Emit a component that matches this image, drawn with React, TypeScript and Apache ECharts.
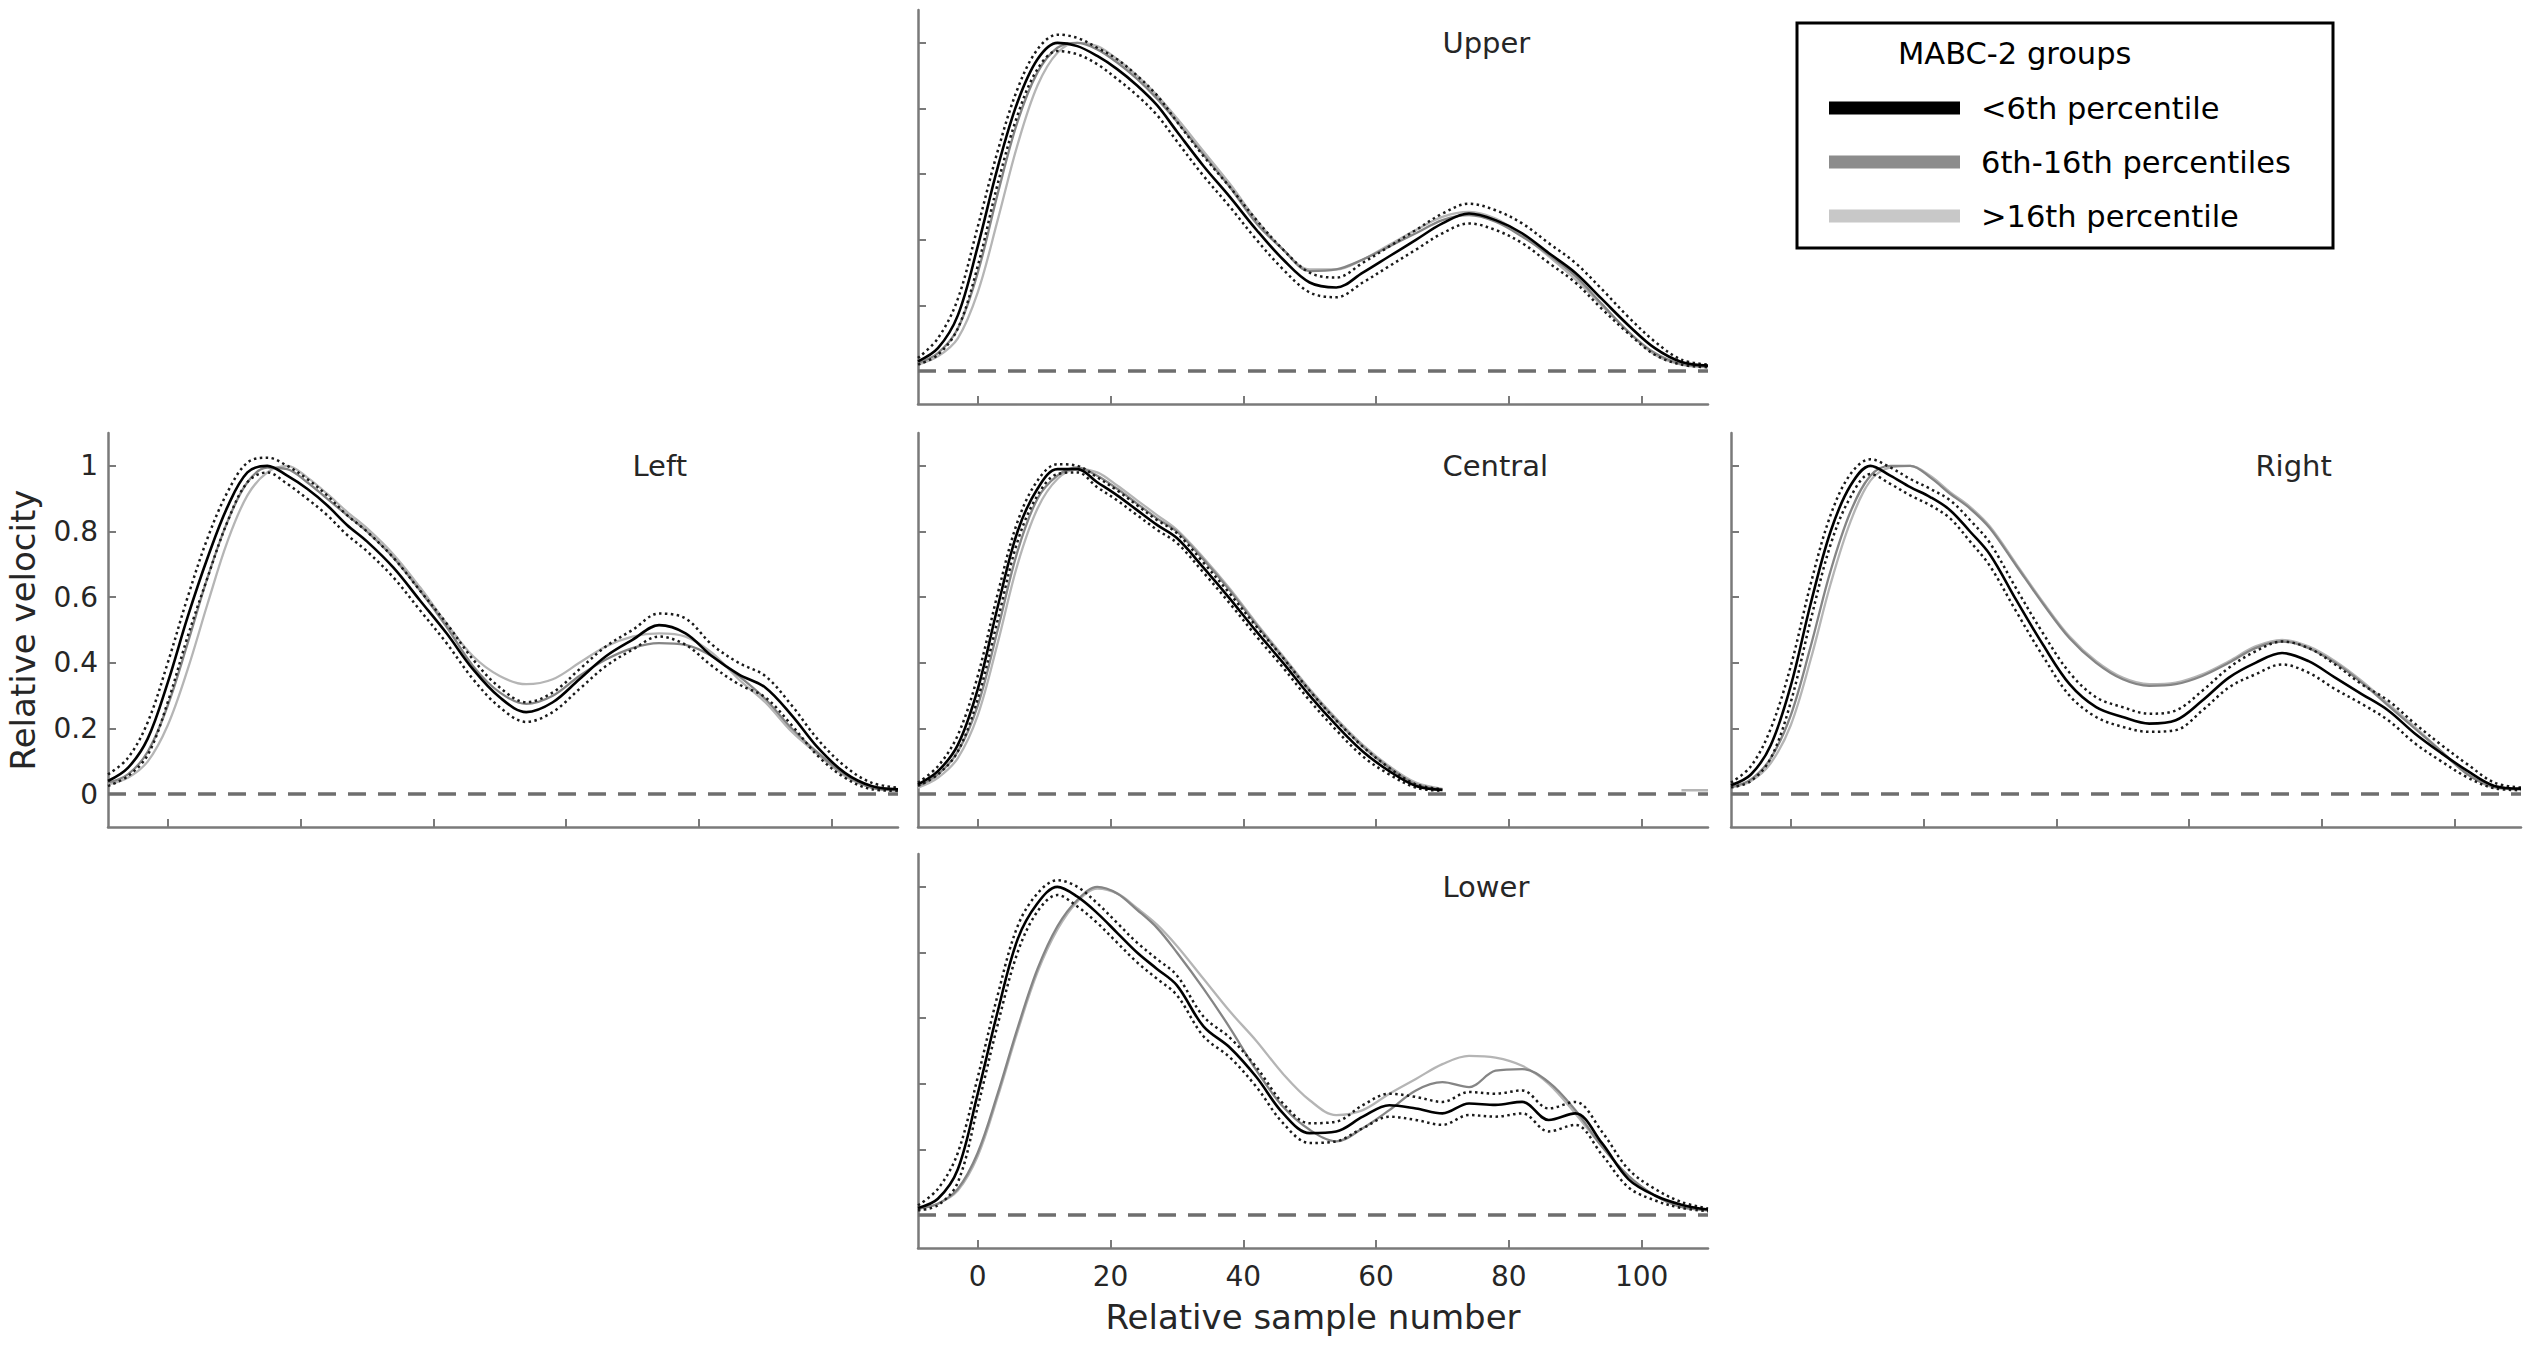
import React, { useEffect, useRef } from "react";
import * as echarts from "echarts";

const FONT = "DejaVu Sans, Verdana, sans-serif";
const TEXT = "#262626";
const AXIS_COLOR = "#7a7a7a";
const BLACK = "#000000";
const MID = "#858585";
const LIGHT = "#b5b5b5";
const DOT = "#1a1a1a";
const ZERO = "#6e6e6e";

// shared sample grid (Relative sample number)
const X = [-9, -6, -3, 0, 3, 6, 9, 12, 15, 18, 21, 24, 27, 30, 34, 38, 42, 46, 50, 54, 58, 62, 66, 70, 74, 78, 82, 86, 90, 94, 98, 102, 106, 110];
const X_TICKS = [0, 20, 40, 60, 80, 100];
const Y_TICKS = [0, 0.2, 0.4, 0.6, 0.8, 1];
const X_MIN = -9;
const X_MAX = 110;
const Y_MIN = -0.1;
const Y_MAX = 1.1;
const TITLE_AT = [70, 1];

const PANELS = ["Upper", "Left", "Central", "Right", "Lower"];
const GROUPS = ["<6th percentile", "6th-16th percentiles", ">16th percentile"];
const LEGEND_TITLE = "MABC-2 groups";
const X_NAME = "Relative sample number";
const Y_NAME = "Relative velocity";

// ---------- Upper ----------
const upperBelow6 = [0.03, 0.07, 0.17, 0.38, 0.62, 0.82, 0.95, 1.0, 0.99, 0.96, 0.92, 0.87, 0.81, 0.73, 0.625, 0.53, 0.43, 0.34, 0.27, 0.255, 0.30, 0.35, 0.40, 0.45, 0.48, 0.46, 0.42, 0.36, 0.30, 0.22, 0.14, 0.07, 0.028, 0.017];
const upperBelow6Hi = [0.04, 0.10, 0.22, 0.44, 0.67, 0.86, 0.98, 1.025, 1.015, 0.985, 0.95, 0.90, 0.84, 0.76, 0.655, 0.56, 0.46, 0.37, 0.30, 0.285, 0.33, 0.38, 0.43, 0.48, 0.51, 0.49, 0.45, 0.39, 0.33, 0.25, 0.165, 0.09, 0.035, 0.02];
const upperBelow6Lo = [0.02, 0.05, 0.13, 0.32, 0.57, 0.78, 0.92, 0.975, 0.965, 0.935, 0.89, 0.84, 0.78, 0.70, 0.595, 0.50, 0.40, 0.31, 0.24, 0.225, 0.27, 0.32, 0.37, 0.42, 0.45, 0.43, 0.39, 0.33, 0.27, 0.19, 0.115, 0.05, 0.02, 0.012];
const upperMid = [0.025, 0.055, 0.13, 0.30, 0.54, 0.76, 0.91, 0.985, 1.0, 0.98, 0.94, 0.89, 0.83, 0.76, 0.66, 0.56, 0.45, 0.37, 0.305, 0.31, 0.34, 0.38, 0.42, 0.46, 0.475, 0.455, 0.41, 0.355, 0.29, 0.205, 0.12, 0.055, 0.022, 0.015];
const upperHigh = [0.02, 0.045, 0.10, 0.24, 0.46, 0.69, 0.87, 0.97, 1.0, 0.99, 0.95, 0.90, 0.84, 0.77, 0.67, 0.57, 0.46, 0.37, 0.31, 0.31, 0.34, 0.385, 0.43, 0.47, 0.485, 0.465, 0.415, 0.35, 0.28, 0.20, 0.12, 0.05, 0.02, 0.012];

// ---------- Left ----------
const leftBelow6 = [0.04, 0.08, 0.17, 0.34, 0.54, 0.72, 0.875, 0.98, 1.0, 0.97, 0.93, 0.88, 0.82, 0.77, 0.69, 0.59, 0.49, 0.38, 0.295, 0.25, 0.28, 0.35, 0.42, 0.47, 0.515, 0.49, 0.42, 0.365, 0.325, 0.24, 0.14, 0.065, 0.025, 0.015];
const leftBelow6Hi = [0.06, 0.11, 0.22, 0.40, 0.60, 0.78, 0.92, 1.01, 1.025, 1.0, 0.96, 0.91, 0.85, 0.80, 0.72, 0.62, 0.52, 0.41, 0.325, 0.28, 0.31, 0.38, 0.45, 0.50, 0.55, 0.535, 0.455, 0.40, 0.36, 0.27, 0.165, 0.085, 0.035, 0.02];
const leftBelow6Lo = [0.025, 0.055, 0.12, 0.28, 0.48, 0.66, 0.83, 0.95, 0.98, 0.945, 0.90, 0.85, 0.79, 0.74, 0.66, 0.56, 0.46, 0.35, 0.265, 0.22, 0.25, 0.32, 0.39, 0.44, 0.48, 0.455, 0.39, 0.335, 0.295, 0.21, 0.115, 0.05, 0.015, 0.01];
const leftMid = [0.035, 0.06, 0.13, 0.27, 0.46, 0.66, 0.83, 0.95, 0.995, 0.99, 0.95, 0.90, 0.85, 0.80, 0.72, 0.62, 0.51, 0.39, 0.31, 0.275, 0.30, 0.36, 0.41, 0.445, 0.46, 0.455, 0.42, 0.36, 0.29, 0.20, 0.125, 0.06, 0.02, 0.012];
const leftHigh = [0.03, 0.05, 0.10, 0.21, 0.38, 0.58, 0.77, 0.91, 0.98, 1.0, 0.965, 0.915, 0.86, 0.81, 0.73, 0.63, 0.52, 0.42, 0.36, 0.335, 0.35, 0.40, 0.45, 0.48, 0.49, 0.48, 0.43, 0.35, 0.28, 0.19, 0.12, 0.055, 0.02, 0.012];

// ---------- Central ----------
const centralBelow6 = [0.03, 0.07, 0.15, 0.32, 0.57, 0.80, 0.93, 0.99, 0.99, 0.95, 0.91, 0.865, 0.82, 0.78, 0.69, 0.595, 0.495, 0.40, 0.30, 0.21, 0.13, 0.07, 0.025, 0.013, null, null, null, null, null, null, null, null, null, null];
const centralBelow6Hi = [0.035, 0.085, 0.18, 0.36, 0.61, 0.83, 0.955, 1.005, 1.0, 0.965, 0.925, 0.88, 0.835, 0.795, 0.705, 0.61, 0.51, 0.415, 0.315, 0.225, 0.145, 0.08, 0.03, 0.015, null, null, null, null, null, null, null, null, null, null];
const centralBelow6Lo = [0.025, 0.06, 0.13, 0.29, 0.53, 0.77, 0.91, 0.975, 0.98, 0.935, 0.895, 0.85, 0.805, 0.765, 0.675, 0.58, 0.48, 0.385, 0.285, 0.195, 0.115, 0.06, 0.02, 0.01, null, null, null, null, null, null, null, null, null, null];
const centralMid = [0.025, 0.06, 0.13, 0.27, 0.50, 0.74, 0.90, 0.97, 0.995, 0.97, 0.93, 0.885, 0.84, 0.80, 0.715, 0.62, 0.515, 0.415, 0.315, 0.225, 0.145, 0.08, 0.03, 0.014, null, null, null, null, null, null, null, null, null, null];
const centralHigh = [0.02, 0.05, 0.11, 0.24, 0.46, 0.70, 0.87, 0.96, 0.99, 0.98, 0.94, 0.895, 0.85, 0.805, 0.72, 0.625, 0.52, 0.42, 0.32, 0.23, 0.15, 0.085, 0.035, 0.016, null, null, null, null, null, null, null, null, 0.012, 0.012];

// ---------- Right ----------
const rightBelow6 = [0.027, 0.06, 0.15, 0.33, 0.58, 0.80, 0.94, 1.0, 0.97, 0.935, 0.905, 0.865, 0.80, 0.73, 0.59, 0.455, 0.335, 0.265, 0.235, 0.215, 0.225, 0.285, 0.355, 0.40, 0.43, 0.405, 0.355, 0.305, 0.255, 0.185, 0.125, 0.07, 0.025, 0.017];
const rightBelow6Hi = [0.035, 0.085, 0.20, 0.39, 0.64, 0.85, 0.975, 1.02, 0.995, 0.96, 0.93, 0.895, 0.835, 0.765, 0.625, 0.49, 0.37, 0.295, 0.265, 0.245, 0.255, 0.315, 0.385, 0.435, 0.465, 0.445, 0.395, 0.335, 0.285, 0.215, 0.15, 0.09, 0.035, 0.02];
const rightBelow6Lo = [0.02, 0.04, 0.11, 0.28, 0.53, 0.76, 0.905, 0.975, 0.945, 0.91, 0.88, 0.84, 0.77, 0.695, 0.555, 0.42, 0.30, 0.235, 0.205, 0.19, 0.195, 0.255, 0.325, 0.365, 0.395, 0.37, 0.32, 0.275, 0.225, 0.155, 0.10, 0.05, 0.018, 0.012];
const rightMid = [0.022, 0.045, 0.11, 0.24, 0.45, 0.68, 0.86, 0.97, 1.0, 1.0, 0.965, 0.915, 0.87, 0.81, 0.695, 0.58, 0.475, 0.40, 0.35, 0.33, 0.335, 0.36, 0.40, 0.445, 0.465, 0.445, 0.40, 0.34, 0.27, 0.20, 0.13, 0.06, 0.022, 0.015];
const rightHigh = [0.02, 0.04, 0.095, 0.21, 0.41, 0.64, 0.83, 0.955, 0.995, 1.0, 0.97, 0.92, 0.875, 0.815, 0.70, 0.585, 0.48, 0.405, 0.355, 0.335, 0.34, 0.365, 0.405, 0.45, 0.47, 0.45, 0.405, 0.345, 0.275, 0.205, 0.13, 0.06, 0.02, 0.015];

// ---------- Lower ----------
const lowerBelow6 = [0.022, 0.05, 0.14, 0.37, 0.62, 0.84, 0.95, 1.0, 0.97, 0.92, 0.86, 0.80, 0.75, 0.70, 0.575, 0.51, 0.42, 0.31, 0.25, 0.255, 0.30, 0.335, 0.325, 0.31, 0.34, 0.336, 0.345, 0.29, 0.31, 0.22, 0.11, 0.06, 0.032, 0.017];
const lowerBelow6Hi = [0.03, 0.08, 0.19, 0.42, 0.67, 0.88, 0.98, 1.02, 1.0, 0.95, 0.89, 0.83, 0.78, 0.73, 0.605, 0.54, 0.45, 0.34, 0.28, 0.285, 0.335, 0.37, 0.36, 0.345, 0.375, 0.37, 0.38, 0.325, 0.345, 0.255, 0.14, 0.08, 0.04, 0.02];
const lowerBelow6Lo = [0.015, 0.03, 0.10, 0.33, 0.58, 0.80, 0.925, 0.975, 0.94, 0.89, 0.83, 0.77, 0.72, 0.67, 0.545, 0.48, 0.39, 0.28, 0.22, 0.225, 0.265, 0.30, 0.29, 0.275, 0.305, 0.30, 0.31, 0.255, 0.275, 0.185, 0.085, 0.045, 0.022, 0.012];
const lowerMid = [0.02, 0.035, 0.08, 0.19, 0.37, 0.57, 0.75, 0.88, 0.96, 1.0, 0.98, 0.93, 0.875, 0.80, 0.69, 0.57, 0.44, 0.33, 0.26, 0.225, 0.265, 0.32, 0.38, 0.405, 0.39, 0.44, 0.445, 0.405, 0.32, 0.21, 0.12, 0.06, 0.025, 0.015];
const lowerHigh = [0.02, 0.035, 0.075, 0.18, 0.36, 0.56, 0.74, 0.87, 0.955, 0.995, 0.98, 0.935, 0.885, 0.82, 0.72, 0.62, 0.53, 0.43, 0.35, 0.305, 0.32, 0.37, 0.415, 0.46, 0.485, 0.48, 0.455, 0.40, 0.31, 0.21, 0.12, 0.06, 0.025, 0.015];

const PANEL_DATA: Record<string, { below6: (number | null)[]; hi: (number | null)[]; lo: (number | null)[]; mid: (number | null)[]; high: (number | null)[] }> = {
  Upper: { below6: upperBelow6, hi: upperBelow6Hi, lo: upperBelow6Lo, mid: upperMid, high: upperHigh },
  Left: { below6: leftBelow6, hi: leftBelow6Hi, lo: leftBelow6Lo, mid: leftMid, high: leftHigh },
  Central: { below6: centralBelow6, hi: centralBelow6Hi, lo: centralBelow6Lo, mid: centralMid, high: centralHigh },
  Right: { below6: rightBelow6, hi: rightBelow6Hi, lo: rightBelow6Lo, mid: rightMid, high: rightHigh },
  Lower: { below6: lowerBelow6, hi: lowerBelow6Hi, lo: lowerBelow6Lo, mid: lowerMid, high: lowerHigh },
};

// layout (pixels)
const PANEL_W = 790;
const PANEL_H = 394;
const LAYOUT: Record<string, { left: number; top: number }> = {
  Upper: { left: 918, top: 10 },
  Left: { left: 108, top: 433 },
  Central: { left: 918, top: 433 },
  Right: { left: 1731, top: 433 },
  Lower: { left: 918, top: 854 },
};

function buildOption() {
  const grid = PANELS.map((p) => ({
    left: LAYOUT[p].left,
    top: LAYOUT[p].top,
    width: PANEL_W,
    height: PANEL_H,
    containLabel: false,
  }));

  const xAxis = PANELS.map((p, i) => ({
    type: "value",
    gridIndex: i,
    min: X_MIN,
    max: X_MAX,
    axisLine: { show: true, onZero: false, lineStyle: { color: AXIS_COLOR, width: 2.5 } },
    axisTick: { show: true, inside: true, length: 8, customValues: X_TICKS, lineStyle: { color: AXIS_COLOR, width: 2 } },
    axisLabel: { show: p === "Lower", customValues: X_TICKS, fontSize: 28, color: TEXT, fontFamily: FONT, margin: 14 },
    splitLine: { show: false },
    ...(p === "Lower"
      ? {
          name: X_NAME,
          nameLocation: "middle",
          nameGap: 52,
          nameTextStyle: { fontSize: 34, color: TEXT, fontFamily: FONT },
        }
      : {}),
  }));

  const yAxis = PANELS.map((p, i) => ({
    type: "value",
    gridIndex: i,
    min: Y_MIN,
    max: Y_MAX,
    axisLine: { show: true, onZero: false, lineStyle: { color: AXIS_COLOR, width: 2.5 } },
    axisTick: { show: true, inside: true, length: 8, customValues: Y_TICKS, lineStyle: { color: AXIS_COLOR, width: 2 } },
    axisLabel: { show: p === "Left", customValues: Y_TICKS, fontSize: 28, color: TEXT, fontFamily: FONT, margin: 10 },
    splitLine: { show: false },
    ...(p === "Left"
      ? {
          name: Y_NAME,
          nameLocation: "middle",
          nameGap: 68,
          nameTextStyle: { fontSize: 34, color: TEXT, fontFamily: FONT },
        }
      : {}),
  }));

  const series: any[] = [];
  PANELS.forEach((p, i) => {
    const d = PANEL_DATA[p];
    const mk = (name: string, arr: (number | null)[], color: string, width: number, type: any, z: number, extra: any = {}) => ({
      type: "line",
      name,
      xAxisIndex: i,
      yAxisIndex: i,
      data: X.map((x, k) => [x, arr[k] === null ? "-" : arr[k]]),
      smooth: 0.35,
      showSymbol: false,
      symbol: "none",
      connectNulls: false,
      silent: true,
      lineStyle: { color, width, type },
      z,
      ...extra,
    });
    series.push(
      mk(GROUPS[2], d.high, LIGHT, 2.3, "solid", 2, {
        markLine: {
          silent: true,
          symbol: ["none", "none"],
          label: { show: false },
          lineStyle: { color: ZERO, width: 3.5, type: [18, 12] },
          data: [{ yAxis: 0 }],
        },
      })
    );
    series.push(mk(GROUPS[1], d.mid, MID, 2.3, "solid", 3));
    series.push(mk(GROUPS[0] + " (upper bound)", d.hi, DOT, 2.5, [2.5, 3.4], 4));
    series.push(mk(GROUPS[0] + " (lower bound)", d.lo, DOT, 2.5, [2.5, 3.4], 4));
    series.push(mk(GROUPS[0], d.below6, BLACK, 2.6, "solid", 5));
  });

  return {
    animation: false,
    backgroundColor: "#ffffff",
    grid,
    xAxis,
    yAxis,
    series,
  };
}

function legendGraphic() {
  const swatchColors = ["#000000", "#8c8c8c", "#c8c8c8"];
  const rows = [108, 162, 216];
  const els: any[] = [
    {
      type: "rect",
      shape: { x: 1797, y: 23, width: 536, height: 225 },
      style: { fill: "#ffffff", stroke: "#000000", lineWidth: 3 },
      silent: true,
      z: 10,
    },
    {
      type: "text",
      x: 1898,
      y: 53,
      style: { text: LEGEND_TITLE, fontSize: 30.5, fontFamily: FONT, fill: "#000000", align: "left", verticalAlign: "middle" },
      silent: true,
      z: 11,
    },
  ];
  GROUPS.forEach((g, k) => {
    els.push({
      type: "rect",
      shape: { x: 1829, y: rows[k] - 6.5, width: 131, height: 13 },
      style: { fill: swatchColors[k] },
      silent: true,
      z: 11,
    });
    els.push({
      type: "text",
      x: 1981,
      y: rows[k],
      style: { text: g, fontSize: 30.5, fontFamily: FONT, fill: "#000000", align: "left", verticalAlign: "middle" },
      silent: true,
      z: 11,
    });
  });
  return els;
}

export default function App() {
  const ref = useRef<HTMLDivElement>(null);
  useEffect(() => {
    if (!ref.current) return;
    const chart = echarts.init(ref.current, undefined, { renderer: "svg" });
    chart.setOption(buildOption() as any);
    const titles = PANELS.map((p, i) => {
      const pt = chart.convertToPixel({ gridIndex: i } as any, TITLE_AT) as number[];
      return {
        type: "text",
        x: pt[0],
        y: pt[1],
        style: { text: p, fontSize: 29, fontFamily: FONT, fill: TEXT, align: "left", verticalAlign: "middle" },
        silent: true,
        z: 9,
      };
    });
    chart.setOption({ graphic: [...titles, ...legendGraphic()] } as any);
    return () => chart.dispose();
  }, []);
  return (
    <div
      ref={ref}
      style={{ position: "fixed", left: 0, top: 0, width: 2532, height: 1345, background: "#ffffff" }}
    />
  );
}
